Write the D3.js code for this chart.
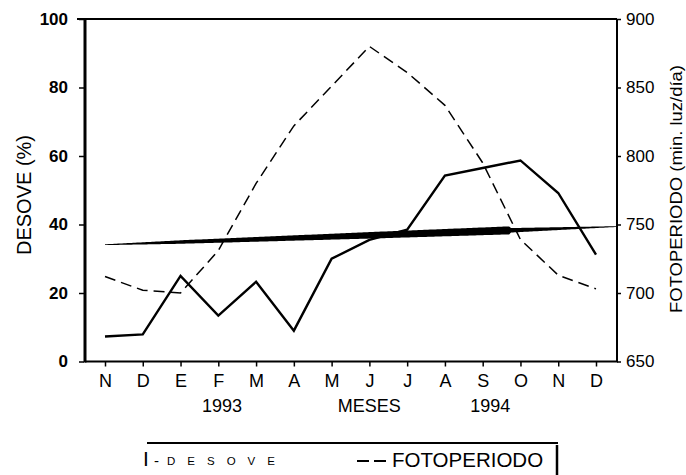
<!DOCTYPE html>
<html><head><meta charset="utf-8">
<script src="https://cdn.jsdelivr.net/npm/d3@7"></script>
<style>
body{margin:0;background:#fff}
text{font-family:"Liberation Sans",Arial,sans-serif;fill:#000}
</style>
</head><body>
<svg id="c" width="686" height="475"></svg>
<script>
// ---- data ----
const months = ["N","D","E","F","M","A","M","J","J","A","S","O","N","D"];
const desove = [7.3, 7.9, 25, 13.4, 23.3, 9, 30, 35.5, 38.5, 54.3, 56.5, 58.7, 49.2, 31.2];
const fotoperiodo = [712, 702, 700, 731, 780, 822, 851, 880, 861, 837, 795, 739, 713, 703];
const leftTicks = [0, 20, 40, 60, 80, 100];
const rightTicks = [650, 700, 750, 800, 850, 900];
const trendValues = [34.1, 39.4];           // trend of DESOVE: at first month, at right axis
const bottomLabels = ["1993", "MESES", "1994"];
const bottomLabelAt = [3.1, 7, 10.2];         // month-index positions

// ---- layout ----
const L = 85, R = 617, T = 19, B = 361.5;
const svg = d3.select("#c");
const x = d3.scaleLinear().domain([0, 13]).range([105, 596]);
const yL = d3.scaleLinear().domain([0, 100]).range([B, T]);
const yR = d3.scaleLinear().domain([650, 900]).range([B, T]);

// frame lines
svg.append("line").attr("x1", 77).attr("x2", R).attr("y1", T).attr("y2", T)
  .attr("stroke", "#000").attr("stroke-width", 2);
svg.append("line").attr("x1", L).attr("x2", L).attr("y1", T).attr("y2", B + 1)
  .attr("stroke", "#000").attr("stroke-width", 3);
svg.append("line").attr("x1", R).attr("x2", R).attr("y1", T).attr("y2", B)
  .attr("stroke", "#000").attr("stroke-width", 2);
svg.append("line").attr("x1", L).attr("x2", R + 1).attr("y1", B).attr("y2", B)
  .attr("stroke", "#000").attr("stroke-width", 2);

// left axis
const gl = svg.append("g").attr("transform", `translate(${L - 1},0)`)
  .call(d3.axisLeft(yL).tickValues(leftTicks).tickSize(5).tickPadding(11));
gl.select(".domain").remove();
gl.selectAll("line").attr("stroke", "#000").attr("stroke-width", 1.5);
gl.selectAll("text").attr("font-size", 17).attr("font-weight", "bold")
  .attr("font-family", "Liberation Sans, Arial, sans-serif");

// right axis
const gr = svg.append("g").attr("transform", `translate(${R},0)`)
  .call(d3.axisRight(yR).tickValues(rightTicks).tickSize(4).tickPadding(5));
gr.select(".domain").remove();
gr.selectAll("line").attr("stroke", "#000").attr("stroke-width", 1.5);
gr.selectAll("text").attr("font-size", 17)
  .attr("font-family", "Liberation Sans, Arial, sans-serif");

// bottom axis
const gb = svg.append("g").attr("transform", `translate(0,${B})`)
  .call(d3.axisBottom(x).tickValues(d3.range(months.length))
    .tickFormat(i => months[i]).tickSize(5).tickPadding(8));
gb.select(".domain").remove();
gb.selectAll("line").attr("stroke", "#000").attr("stroke-width", 1.5);
gb.selectAll("text").attr("font-size", 18)
  .attr("font-family", "Liberation Sans, Arial, sans-serif");

svg.selectAll(".blab").data(bottomLabels).enter().append("text")
  .attr("x", (d, i) => x(bottomLabelAt[i])).attr("y", 412)
  .attr("text-anchor", "middle").attr("font-size", 18).text(d => d);

// axis titles
svg.append("text").attr("transform", "translate(31,195) rotate(-90)")
  .attr("text-anchor", "middle").attr("font-size", 20).text("DESOVE (%)");
svg.append("text").attr("transform", "translate(682,189) rotate(-90)")
  .attr("text-anchor", "middle").attr("font-size", 17)
  .attr("textLength", 248).attr("lengthAdjust", "spacingAndGlyphs")
  .text("FOTOPERIODO (min. luz/día)");

// trend wedge (tapered thick line)
const iEnd = x.invert(R);
const trendY = d3.scaleLinear().domain([0, iEnd]).range(trendValues);
const thick = d3.scaleLinear().domain([0, 2, 7, 10.7, 10.75, iEnd])
  .range([0.8, 3.5, 6.5, 8, 4.5, 0.8]);
const steps = d3.range(0, iEnd, 0.05).concat([iEnd]);
svg.append("path").datum(steps)
  .attr("d", d3.area()
    .x(i => x(i))
    .y0(i => yL(trendY(i)) + thick(i) / 2)
    .y1(i => yL(trendY(i)) - thick(i) / 2))
  .attr("fill", "#000");

// FOTOPERIODO dashed line
svg.append("path").datum(fotoperiodo)
  .attr("d", d3.line().x((d, i) => x(i)).y(d => yR(d)))
  .attr("fill", "none").attr("stroke", "#000").attr("stroke-width", 1.5)
  .attr("stroke-dasharray", "11,6");

// DESOVE solid line
svg.append("path").datum(desove)
  .attr("d", d3.line().x((d, i) => x(i)).y(d => yL(d)))
  .attr("fill", "none").attr("stroke", "#000").attr("stroke-width", 2.4)
  .attr("stroke-linejoin", "miter");

// legend
svg.append("line").attr("x1", 147).attr("x2", 558).attr("y1", 443).attr("y2", 443)
  .attr("stroke", "#000").attr("stroke-width", 1.8);
svg.append("line").attr("x1", 557).attr("x2", 557).attr("y1", 445).attr("y2", 475)
  .attr("stroke", "#000").attr("stroke-width", 2.5);
svg.append("text").attr("x", 143).attr("y", 466).attr("font-size", 21).text("I");
svg.append("text").attr("x", 154).attr("y", 466).attr("font-size", 15).text("-");
svg.append("text").attr("x", 167).attr("y", 465).attr("font-size", 11.5)
  .attr("letter-spacing", 12).text("DESOVE");
svg.append("line").attr("x1", 357).attr("x2", 389).attr("y1", 461).attr("y2", 461)
  .attr("stroke", "#000").attr("stroke-width", 2.2).attr("stroke-dasharray", "12,5");
svg.append("text").attr("x", 392).attr("y", 467).attr("font-size", 20.5).text("FOTOPERIODO");
</script>
</body></html>
